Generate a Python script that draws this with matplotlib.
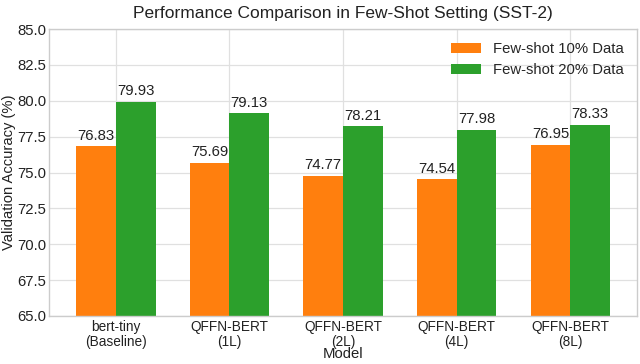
import numpy as np
import matplotlib
matplotlib.use("Agg")
import matplotlib.pyplot as plt

plt.style.use("seaborn-v0_8-whitegrid")
plt.rcParams['font.family'] = ['Liberation Sans', 'DejaVu Sans']

# data
models = ["bert-tiny\n(Baseline)", "QFFN-BERT\n(1L)", "QFFN-BERT\n(2L)", "QFFN-BERT\n(4L)", "QFFN-BERT\n(8L)"]
acc_10 = [76.83, 75.69, 74.77, 74.54, 76.95]
acc_20 = [79.93, 79.13, 78.21, 77.98, 78.33]
yticks = [65.0, 67.5, 70.0, 72.5, 75.0, 77.5, 80.0, 82.5, 85.0]

x = np.arange(len(models))
width = 0.35

fig, ax = plt.subplots(figsize=(6.4, 3.64), dpi=100)
b1 = ax.bar(x - width / 2, acc_10, width, color="#ff7f0e", label="Few-shot 10% Data")
b2 = ax.bar(x + width / 2, acc_20, width, color="#2ca02c", label="Few-shot 20% Data")

ax.bar_label(b1, fmt="%.2f", fontsize=10.7, padding=2.5, color="#222222")
ax.bar_label(b2, fmt="%.2f", fontsize=10.7, padding=2.5, color="#222222")

ax.set_ylim(65, 85)
ax.set_yticks(yticks)
ax.set_yticklabels([f"{t:.1f}" for t in yticks], fontsize=10.7)
ax.set_xticks(x)
ax.set_xticklabels(models, fontsize=9.8, linespacing=1.05)
ax.tick_params(axis="both", colors="#222222", pad=2)
ax.tick_params(axis="x", pad=3)

ax.set_xlabel("Model", fontsize=10.7, labelpad=-1, color="#222222")
ax.set_ylabel("Validation Accuracy (%)", fontsize=10.6, labelpad=1, color="#222222")
ax.set_title("Performance Comparison in Few-Shot Setting (SST-2)", fontsize=12.5, color="#222222", pad=8)

for s in ax.spines.values():
    s.set_visible(True)
    s.set_color("#cccccc")
    s.set_linewidth(1.0)
ax.grid(True, color="#e0e0e0", linewidth=0.9)

ax.legend(loc="upper right", fontsize=10.7, frameon=False, handlelength=2.0,
          borderaxespad=0.5, labelspacing=0.45)

fig.subplots_adjust(left=0.077, right=0.995, top=0.92, bottom=0.132)
fig.savefig("out.png", dpi=100)
